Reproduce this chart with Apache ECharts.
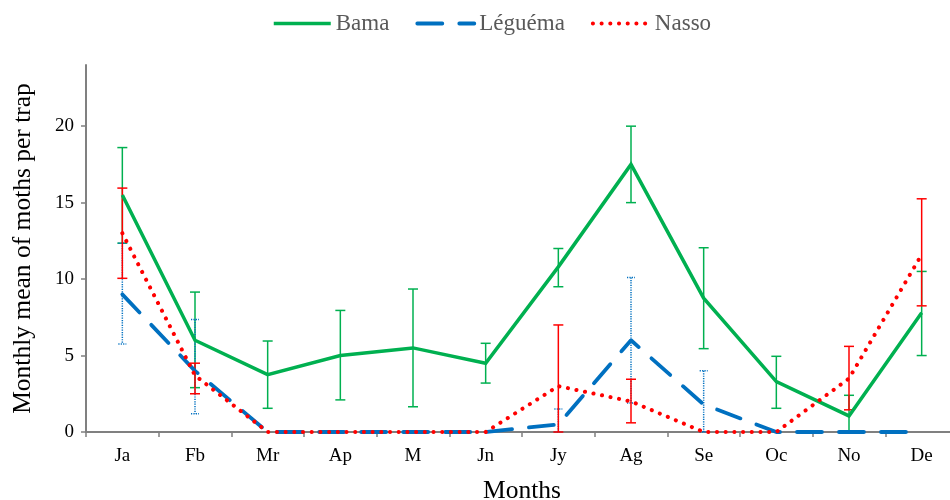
<!DOCTYPE html>
<html>
<head>
<meta charset="utf-8">
<script src="https://cdn.jsdelivr.net/npm/echarts@6/dist/echarts.min.js"></script>
<style>html,body{margin:0;padding:0;background:#fff}#c{width:950px;height:500px}</style>
</head>
<body>
<div id="c"></div>
<script>
const months = ['Ja','Fb','Mr','Ap','M','Jn','Jy','Ag','Se','Oc','No','De'];
const yTicks = [0, 5, 10, 15, 20];

const bamaMean = [15.5, 6.0, 3.75, 5.0, 5.5, 4.5, 10.8, 17.5, 8.75, 3.3, 1.05, 7.8];
const bamaLow  = [12.35, 2.9, 1.55, 2.1, 1.65, 3.2, 9.5, 15.0, 5.45, 1.55, 0, 5.0];
const bamaHigh = [18.6, 9.15, 5.95, 7.95, 9.35, 5.8, 12.0, 20.0, 12.05, 4.95, 2.4, 10.5];

const legMean = [9.0, 4.0, 0, 0, 0, 0, 0.5, 6.0, 1.8, 0, 0, 0];
const legLow  = [5.75, 1.2, null, null, null, null, 0, 1.9, 0, null, null, null];
const legHigh = [12.35, 7.35, null, null, null, null, 1.5, 10.1, 4.0, null, null, null];

const nasMean = [13.0, 3.7, 0, 0, 0, 0, 3.0, 2.0, 0, 0, 3.5, 11.6];
const nasLow  = [10.05, 2.5, null, null, null, null, 0, 0.6, null, null, 1.45, 8.25];
const nasHigh = [15.95, 4.5, null, null, null, null, 7.0, 3.45, null, null, 5.6, 15.25];

const GREEN = '#00B050', BLUE = '#0070C0', RED = '#FF0000';
const FONT = 'Liberation Serif';

function errData(low, high) {
  const out = [];
  for (let i = 0; i < low.length; i++) {
    if (low[i] !== null && high[i] !== null) out.push([i, low[i], high[i]]);
  }
  return out;
}
function errSeries(name, low, high, color, width, dash, capHalf) {
  return {
    type: 'custom', name: name, z: 1,
    data: errData(low, high),
    encode: { x: 0, y: [1, 2] },
    silent: true,
    renderItem: function (params, api) {
      const x = api.value(0);
      const lo = api.coord([x, api.value(1)]);
      const hi = api.coord([x, api.value(2)]);
      const style = { stroke: color, lineWidth: width, lineDash: dash, fill: null };
      return {
        type: 'group',
        children: [
          { type: 'line', shape: { x1: hi[0], y1: hi[1], x2: lo[0], y2: lo[1] }, style: style },
          { type: 'line', shape: { x1: hi[0] - capHalf, y1: hi[1], x2: hi[0] + capHalf, y2: hi[1] }, style: style },
          { type: 'line', shape: { x1: lo[0] - capHalf, y1: lo[1], x2: lo[0] + capHalf, y2: lo[1] }, style: style }
        ]
      };
    }
  };
}

const chart = echarts.init(document.getElementById('c'), null, { renderer: 'canvas' });
chart.setOption({
  animation: false,
  backgroundColor: '#fff',
  textStyle: { fontFamily: FONT },
  legend: {
    data: ['Bama', 'Léguéma', 'Nasso'],
    left: 267, top: 7,
    itemWidth: 57, itemHeight: 14, itemGap: 26,
    itemStyle: { opacity: 0 },
    lineStyle: { width: 'inherit' },
    textStyle: { fontFamily: FONT, fontSize: 23, color: '#595959' }
  },
  grid: { left: 86, top: 65, width: 872, height: 367, containLabel: false, outerBoundsMode: 'none' },
  xAxis: {
    type: 'category', data: months, boundaryGap: true,
    name: 'Months', nameLocation: 'middle', nameGap: 46,
    nameTextStyle: { fontFamily: FONT, fontSize: 25.5, color: '#000' },
    axisLine: { lineStyle: { color: '#808080', width: 2 } },
    axisTick: { show: true, length: 5, lineStyle: { color: '#808080', width: 1.5 }, alignWithLabel: false },
    axisLabel: { fontFamily: FONT, fontSize: 19, color: '#000', margin: 15 },
    splitLine: { show: false }
  },
  yAxis: {
    type: 'value', min: 0, max: 24, interval: 5,
    name: 'Monthly mean of moths per trap', nameLocation: 'middle', nameGap: 50,
    nameTextStyle: { fontFamily: FONT, fontSize: 25.5, color: '#000' },
    axisLine: { show: true, lineStyle: { color: '#808080', width: 2 } },
    axisTick: { show: true, length: 5, lineStyle: { color: '#808080', width: 1.5 }, customValues: yTicks },
    axisLabel: { fontFamily: FONT, fontSize: 19, color: '#000', margin: 12, customValues: yTicks },
    splitLine: { show: false }
  },
  series: [
    errSeries('errB', bamaLow, bamaHigh, GREEN, 1.5, null, 5),
    errSeries('errL', legLow, legHigh, BLUE, 1.5, [1.2, 1.2], 4),
    errSeries('errN', nasLow, nasHigh, RED, 1.5, null, 5),
    {
      name: 'Bama', type: 'line', data: bamaMean, symbol: 'none', z: 3,
      lineStyle: { color: GREEN, width: 3.5, join: 'miter' }, itemStyle: { color: GREEN }
    },
    {
      name: 'Léguéma', type: 'line', data: legMean, symbol: 'none', z: 4,
      lineStyle: { color: BLUE, width: 3.8, type: [25, 17], cap: 'round' }, itemStyle: { color: BLUE }
    },
    {
      name: 'Nasso', type: 'line', data: nasMean, symbol: 'none', z: 5,
      lineStyle: { color: RED, width: 4, type: [0.1, 8.6], cap: 'round' }, itemStyle: { color: RED }
    }
  ]
});
</script>
</body>
</html>
